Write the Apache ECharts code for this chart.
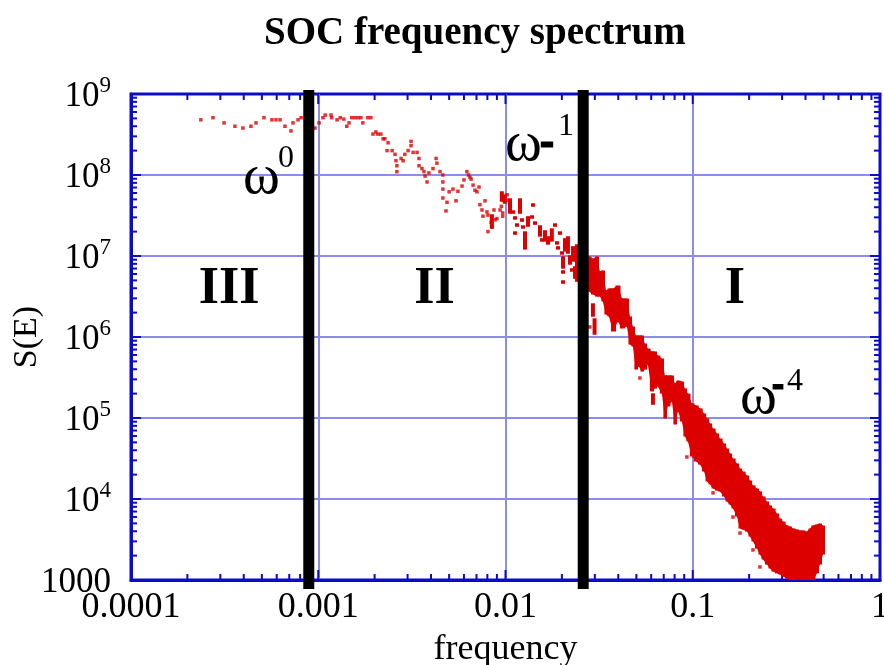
<!DOCTYPE html>
<html>
<head>
<meta charset="utf-8">
<script src="https://cdn.jsdelivr.net/npm/echarts@6/dist/echarts.min.js"></script>
<style>html,body{margin:0;padding:0;background:#fff}#chart{width:884px;height:665px}</style>
</head>
<body>
<div id="chart"></div>
<script>
// ---------------- data ----------------
const xTickLabels = ['0.0001', '0.001', '0.01', '0.1', '1'];
const yTickLabels = [['1000', ''], ['10', '4'], ['10', '5'], ['10', '6'], ['10', '7'], ['10', '8'], ['10', '9']];

// isolated spectrum points [frequency, S(E)]
const sparsePoints = [
  [2.36e-4, 4.8e8], [2.74e-4, 5.1e8], [3.14e-4, 4.4e8], [3.59e-4, 4.0e8], [3.96e-4, 3.8e8],
  [4.37e-4, 4.0e8], [4.65e-4, 4.4e8], [5.13e-4, 5.1e8], [5.66e-4, 4.8e8], [5.95e-4, 4.8e8],
  [6.25e-4, 4.8e8], [6.64e-4, 4.0e8], [7.15e-4, 3.5e8], [7.33e-4, 4.4e8], [7.8e-4, 4.8e8],
  [8.1e-4, 5.1e8], [9.6e-4, 3.8e8], [1.01e-3, 4.4e8], [1.06e-3, 5.1e8], [1.09e-3, 5.5e8],
  [1.17e-3, 5.5e8], [1.18e-3, 5.1e8], [1.26e-3, 4.8e8], [1.31e-3, 5.1e8], [1.37e-3, 4.9e8],
  [1.42e-3, 4.0e8], [1.46e-3, 4.4e8], [1.51e-3, 5.1e8], [1.57e-3, 5.1e8], [1.63e-3, 5.1e8],
  [1.69e-3, 5.1e8], [1.73e-3, 4.4e8], [1.84e-3, 5.1e8], [1.91e-3, 5.1e8], [1.96e-3, 3.2e8],
  [2.03e-3, 3.4e8], [2.08e-3, 3.2e8], [2.16e-3, 3.2e8], [2.22e-3, 2.8e8], [2.27e-3, 2.8e8],
  [2.36e-3, 2.5e8], [2.33e-3, 2.0e8], [2.48e-3, 2.0e8], [2.57e-3, 1.8e8], [2.60e-3, 1.5e8],
  [2.63e-3, 1.3e8], [2.63e-3, 1.1e8], [2.77e-3, 1.6e8], [2.84e-3, 1.5e8], [2.90e-3, 1.8e8],
  [3.02e-3, 2.0e8], [3.13e-3, 2.3e8], [3.13e-3, 2.6e8], [3.21e-3, 1.9e8], [3.37e-3, 1.9e8],
  [3.45e-3, 1.6e8], [3.45e-3, 1.3e8], [3.58e-3, 1.2e8], [3.67e-3, 1.1e8], [3.72e-3, 9.7e7],
  [3.81e-3, 8.2e7], [3.90e-3, 1.06e8], [4.10e-3, 1.2e8], [4.26e-3, 1.6e8], [4.30e-3, 1.4e8],
  [4.47e-3, 1.1e8], [4.63e-3, 1.0e8], [4.63e-3, 8.2e7], [4.63e-3, 6.7e7], [4.63e-3, 5.2e7],
  [4.81e-3, 3.6e7], [4.87e-3, 4.6e7], [5.0e-3, 6.2e7], [5.24e-3, 6.7e7], [5.44e-3, 4.8e7],
  [5.57e-3, 6.3e7], [5.86e-3, 7.3e7], [6.0e-3, 8.7e7], [6.22e-3, 1.1e8], [6.35e-3, 1.0e8],
  [6.46e-3, 9.4e7], [6.55e-3, 8.9e7], [6.71e-3, 7.5e7], [6.87e-3, 6.5e7], [7.04e-3, 6.2e7],
  [7.22e-3, 7.1e7], [7.3e-3, 4.3e7], [7.49e-3, 3.7e7], [7.58e-3, 3.1e7], [7.77e-3, 4.8e7],
  [7.96e-3, 3.5e7], [8.06e-3, 3.2e7], [8.37e-3, 2.6e7], [8.47e-3, 2.3e7], [8.06e-3, 2.0e7],
  [8.68e-3, 3.7e7], [9.0e-3, 2.9e7], [9.35e-3, 3.7e7], [9.5e-3, 4.1e7], [9.66e-3, 3.1e7],
  [9.66e-3, 3.4e7], [9.78e-3, 4.9e7], [8.8e-3, 2.8e7], [1.02e-2, 5.7e7], [1.02e-2, 4.9e7],
  [2.82e-2, 1.33e6], [5.22e-2, 3.12e5], [9.3e-2, 3.3e4], [0.1283, 1.19e4], [0.164, 5.99e3],
  [0.1788, 3.8e3], [0.2097, 2.35e3], [0.2285, 1.45e3]
];

// short vertical runs of points [frequency, S low, S high]
const clusterRuns = [
  [9.56e-3, 4.91e7, 5.99e7], [9.91e-3, 4.64e7, 5.5e7], [8.46e-3, 2.28e7, 3.12e7],
  [1.057e-2, 3.49e7, 4.91e7], [1.097e-2, 3.49e7, 3.49e7], [1.124e-2, 2.95e7, 2.95e7],
  [1.152e-2, 2.41e7, 2.41e7], [1.124e-2, 1.92e7, 1.92e7], [1.195e-2, 3.49e7, 4.91e7],
  [1.225e-2, 2.78e7, 2.78e7], [1.24e-2, 2.28e7, 2.28e7], [1.271e-2, 1.26e7, 1.92e7],
  [1.319e-2, 2.41e7, 2.95e7], [1.385e-2, 3.03e7, 3.03e7], [1.402e-2, 4.26e7, 4.26e7],
  [1.437e-2, 2.55e7, 2.55e7], [1.528e-2, 1.82e7, 2.28e7], [1.566e-2, 1.58e7, 1.58e7],
  [1.625e-2, 1.58e7, 1.98e7], [1.686e-2, 1.45e7, 1.67e7], [1.768e-2, 1.58e7, 2.09e7],
  [1.838e-2, 2.41e7, 2.41e7], [1.884e-2, 1.45e7, 1.45e7], [1.955e-2, 1.92e7, 1.92e7],
  [1.907e-2, 1.26e7, 1.26e7], [2.004e-2, 1.09e7, 1.09e7], [2.078e-2, 1.19e7, 1.58e7],
  [2.155e-2, 1.12e7, 1.67e7], [2.029e-2, 7.32e6, 9.45e6], [2.029e-2, 6.35e6, 6.35e6],
  [2.029e-2, 4.77e6, 4.77e6], [2.21e-2, 8.2e6, 9.72e6], [2.265e-2, 6.72e6, 6.72e6],
  [2.293e-2, 8.93e6, 1.26e7], [2.35e-2, 5.5e6, 7.11e6], [2.409e-2, 5.05e6, 1.33e7],
  [2.93e-2, 1.87e6, 2.48e6], [2.99e-2, 1.12e6, 1.62e6], [6.13e-2, 1.53e5, 1.92e5]
];

// dense high-frequency band [frequency, S low, S high]
const bandColumns = [
  [2.79e-2, 3.8e6, 9.45e6], [2.93e-2, 3.5e6, 8.9e6], [3.08e-2, 3.3e6, 9.45e6], [3.19e-2, 3.3e6, 6.2e6],
  [3.31e-2, 2.86e6, 6.35e6], [3.44e-2, 1.98e6, 3.6e6], [3.57e-2, 1.87e6, 3.8e6], [3.75e-2, 1.22e6, 3.8e6],
  [3.98e-2, 1.62e6, 4.14e6], [4.19e-2, 1.33e6, 2.86e6], [4.45e-2, 1.41e6, 2.86e6], [4.62e-2, 8.43e5, 1.72e6],
  [4.79e-2, 7.97e5, 1.29e6], [4.97e-2, 4.14e5, 1.0e6], [5.16e-2, 4.51e5, 1.0e6], [5.35e-2, 3.91e5, 1.0e6],
  [5.55e-2, 4.14e5, 7.97e5], [5.76e-2, 4.77e5, 6.91e5], [6.05e-2, 2.22e5, 6.35e5], [6.28e-2, 2.41e5, 6.35e5],
  [6.51e-2, 2.55e5, 5.66e5], [6.84e-2, 2.09e5, 5.2e5], [7.10e-2, 1.03e5, 3.21e5], [7.36e-2, 1.45e5, 3.21e5],
  [7.74e-2, 1.67e5, 3.21e5], [8.03e-2, 8.68e4, 2.55e5], [8.33e-2, 1.26e5, 2.78e5], [8.75e-2, 9.45e4, 2.7e5],
  [9.08e-2, 6.17e4, 2.22e5], [9.42e-2, 5.35e4, 1.92e5], [9.89e-2, 3.49e4, 1.45e5], [0.1041, 3.03e4, 1.37e5],
  [0.1093, 2.78e4, 1.26e5], [0.1149, 2.28e4, 1.09e5], [0.1192, 1.72e4, 9.45e4], [0.1237, 1.58e4, 8.2e4],
  [0.1283, 1.41e4, 7.11e4], [0.1347, 1.33e4, 6.17e4], [0.1398, 1.29e4, 5.35e4], [0.1468, 1.12e4, 4.64e4],
  [0.1524, 9.72e3, 4.02e4], [0.1581, 8.93e3, 3.49e4], [0.164, 7.97e3, 3.03e4], [0.1723, 6.35e3, 2.63e4],
  [0.1788, 4.51e3, 2.28e4], [0.1855, 4.38e3, 2.09e4], [0.1948, 4.14e3, 1.87e4], [0.2021, 3.59e3, 1.62e4],
  [0.2097, 3.12e3, 1.41e4], [0.2202, 2.55e3, 1.29e4], [0.2285, 2.15e3, 1.19e4], [0.2371, 1.87e3, 1.03e4],
  [0.2491, 1.62e3, 8.93e3], [0.2584, 1.45e3, 7.97e3], [0.2681, 1.33e3, 7.32e3], [0.2817, 1.26e3, 6.35e3],
  [0.2923, 1.22e3, 5.5e3], [0.3032, 1.15e3, 5.05e3], [0.3184, 1.09e3, 4.51e3], [0.3304, 1.0e3, 4.38e3],
  [0.3428, 1.0e3, 4.14e3], [0.36, 1.0e3, 4.02e3], [0.3736, 1.0e3, 3.91e3], [0.3877, 1.0e3, 3.91e3],
  [0.4072, 1.0e3, 3.8e3], [0.4225, 1.0e3, 4.14e3], [0.4383, 1.0e3, 4.51e3], [0.4604, 1.26e3, 4.64e3],
  [0.4777, 1.62e3, 4.77e3], [0.4956, 2.15e3, 4.51e3]
];

// regime boundaries (frequency)
const boundaryFreq = [8.9e-4, 2.6e-2];

// annotations anchored in data coordinates
const regionLabels = [
  { label: 'III', freq: 3.34e-4, S: 3.8e6 },
  { label: 'II', freq: 4.18e-3, S: 3.8e6 },
  { label: 'I', freq: 0.168, S: 3.8e6 }
];
const slopeLabels = [
  { power: '0', freq: 3.96e-4, S: 9.2e7 },
  { power: '-1', freq: 9.94e-3, S: 2.34e8 },
  { power: '-4', freq: 0.1788, S: 1.77e5 }
];

// ---------------- styling ----------------
const FONT = '"Liberation Serif", "Times New Roman", serif';
const AXIS_COLOR = '#0c0cc8';
const GRID_COLOR = '#8c8cec';
const RED = '#dc0000';
const X_MIN = 1e-4, X_MAX = 1, Y_MIN = 1e3, Y_MAX = 1e9;

// superscript layout for the omega annotations (pixel offsets from the omega anchor)
const SLOPE_PARTS = {
  '0': [{ t: '0', dx: 35, dy: -19, size: 32 }],
  '-1': [{ t: '-', dx: 36, dy: -1, size: 36, heavy: true }, { t: '1', dx: 53, dy: -18, size: 32 }],
  '-4': [{ t: '-', dx: 33, dy: -12, size: 30, heavy: true }, { t: '4', dx: 47, dy: -16, size: 32 }]
};

const chart = echarts.init(document.getElementById('chart'), null, { renderer: 'canvas' });

function renderTicks(params, api) {
  const cs = params.coordSys;
  const left = cs.x, right = cs.x + cs.width, top = cs.y, bottom = cs.y + cs.height;
  const st = { stroke: AXIS_COLOR, lineWidth: 2 };
  const ch = [];
  for (let k = -4; k < 0; k++) {
    for (let m = 1; m <= 9; m++) {
      if (k === -4 && m === 1) continue;
      const x = api.coord([m * Math.pow(10, k), Y_MIN])[0];
      const len = m === 1 ? 10 : 6;
      ch.push({ type: 'line', shape: { x1: x, y1: bottom, x2: x, y2: bottom - len }, style: st });
      ch.push({ type: 'line', shape: { x1: x, y1: top, x2: x, y2: top + len }, style: st });
    }
  }
  for (let k = 3; k < 9; k++) {
    for (let m = 1; m <= 9; m++) {
      if (k === 3 && m === 1) continue;
      const y = api.coord([X_MIN, m * Math.pow(10, k)])[1];
      const len = m === 1 ? 10 : 6;
      ch.push({ type: 'line', shape: { x1: left, y1: y, x2: left + len, y2: y }, style: st });
      ch.push({ type: 'line', shape: { x1: right, y1: y, x2: right - len, y2: y }, style: st });
    }
  }
  return { type: 'group', children: ch };
}

function renderBand(params, api) {
  const i = params.dataIndex;
  const cx = f => api.coord([f, Y_MIN])[0];
  const f = api.value(0);
  const x = cx(f);
  const xl = i > 0 ? (x + cx(bandColumns[i - 1][0])) / 2 : x - 1.5;
  const xr = i < bandColumns.length - 1 ? (x + cx(bandColumns[i + 1][0])) / 2 : x + 1.5;
  const yt = api.coord([f, api.value(2)])[1] - 1.5;
  const yb = api.coord([f, api.value(1)])[1] + 1.5;
  const col = { type: 'rect', shape: { x: xl, y: yt, width: xr - xl + 0.6, height: yb - yt }, style: { fill: RED } };
  if (i !== 0) return col;
  // solid core of the band: upper envelope then lower envelope
  const upper = bandColumns.map(c => { const p = api.coord([c[0], c[2]]); return [p[0], p[1] - 1.5]; });
  const lower = bandColumns.map(c => { const p = api.coord([c[0], c[1]]); return [p[0], p[1] + 1.5]; }).reverse();
  return { type: 'group', children: [
    { type: 'polygon', shape: { points: upper.concat(lower) }, style: { fill: RED } },
    col
  ] };
}

function renderRun(params, api) {
  const f = api.value(0);
  const pt = api.coord([f, api.value(2)]);
  const pb = api.coord([f, api.value(1)]);
  return { type: 'rect', shape: { x: pt[0] - 2, y: pt[1] - 1.75, width: 4, height: pb[1] - pt[1] + 3.5 }, style: { fill: RED } };
}

function renderBoundary(params, api) {
  const cs = params.coordSys;
  const x = api.coord([api.value(0), Y_MIN])[0];
  return { type: 'rect', shape: { x: x - 5.5, y: cs.y - 4, width: 11, height: cs.height + 13 }, style: { fill: '#000' } };
}

function txt(text, x, y, font, align, extra) {
  return { type: 'text', x: x, y: y,
    style: Object.assign({ legacy: false, text: text, font: font, fill: '#000', align: align, verticalAlign: 'middle' }, extra || {}) };
}

function renderRegion(params, api) {
  const p = api.coord([api.value(0), api.value(1)]);
  return txt(regionLabels[params.dataIndex].label, p[0], p[1], 'bold 52px ' + FONT, 'center');
}

function renderSlope(params, api) {
  const p = api.coord([api.value(0), api.value(1)]);
  const parts = SLOPE_PARTS[slopeLabels[params.dataIndex].power];
  const ch = [txt('\u03c9', p[0], p[1], '56px ' + FONT, 'left')];
  parts.forEach(pt => {
    const extra = pt.heavy ? { stroke: '#000', lineWidth: 3 } : {};
    ch.push(txt(pt.t, p[0] + pt.dx, p[1] + pt.dy, (pt.heavy ? 'bold ' : '') + pt.size + 'px ' + FONT, 'left', extra));
  });
  return { type: 'group', children: ch };
}

const option = {
  backgroundColor: '#ffffff',
  animation: false,
  graphic: [{
    type: 'text', left: 264, top: 14,
    style: { text: 'SOC frequency spectrum', font: 'bold 39px ' + FONT, fill: '#000' }
  }],
  grid: {
    left: 131, top: 94, width: 749, height: 486, containLabel: false, outerBoundsMode: 'none',
    show: true, borderColor: AXIS_COLOR, borderWidth: 3, backgroundColor: 'transparent'
  },
  xAxis: {
    type: 'log', logBase: 10, min: X_MIN, max: X_MAX,
    axisLine: { show: true, lineStyle: { color: AXIS_COLOR, width: 3 } },
    axisTick: { show: false },
    axisLabel: {
      formatter: v => xTickLabels[Math.round(Math.log10(v)) + 4],
      fontFamily: FONT, fontSize: 36, color: '#000', margin: 10,
      showMinLabel: true, showMaxLabel: true, hideOverlap: false
    },
    splitLine: { show: true, showMinLine: false, showMaxLine: false, lineStyle: { color: GRID_COLOR, width: 2 } },
    name: 'frequency', nameLocation: 'middle', nameGap: 52, nameMoveOverlap: false,
    nameTextStyle: { fontFamily: FONT, fontSize: 36, color: '#000' }
  },
  yAxis: {
    type: 'log', logBase: 10, min: Y_MIN, max: Y_MAX,
    axisLine: { show: true, lineStyle: { color: AXIS_COLOR, width: 3 } },
    axisTick: { show: false },
    axisLabel: {
      formatter: v => {
        const lab = yTickLabels[Math.round(Math.log10(v)) - 3];
        return lab[1] ? '{m|' + lab[0] + '}{s|' + lab[1] + '}' : '{m|' + lab[0] + '}';
      },
      margin: 20, color: '#000',
      showMinLabel: true, showMaxLabel: true, hideOverlap: false,
      rich: {
        m: { fontFamily: FONT, fontSize: 35, lineHeight: 40, padding: [6, 0, 0, 0], color: '#000' },
        s: { fontFamily: FONT, fontSize: 23, lineHeight: 24, verticalAlign: 'top', color: '#000' }
      }
    },
    splitLine: { show: true, showMinLine: false, showMaxLine: false, lineStyle: { color: GRID_COLOR, width: 2 } },
    name: 'S(E)', nameLocation: 'middle', nameGap: 87, nameRotate: 90, nameMoveOverlap: false,
    nameTextStyle: { fontFamily: FONT, fontSize: 34, color: '#000' }
  },
  series: [
    { type: 'custom', name: 'ticks', renderItem: renderTicks, data: [[X_MIN, Y_MIN]], z: 3, silent: true, clip: false },
    { type: 'scatter', name: 'points', data: sparsePoints, symbol: 'rect', symbolSize: 3.5, itemStyle: { color: RED }, z: 4, silent: true },
    { type: 'custom', name: 'runs', renderItem: renderRun, data: clusterRuns, encode: { x: 0, y: [1, 2] }, z: 4, clip: true, silent: true },
    { type: 'custom', name: 'band', renderItem: renderBand, data: bandColumns, encode: { x: 0, y: [1, 2] }, z: 4, clip: true, silent: true },
    { type: 'custom', name: 'boundaries', renderItem: renderBoundary, data: boundaryFreq.map(f => [f, Y_MIN]), z: 6, clip: false, silent: true },
    { type: 'custom', name: 'regions', renderItem: renderRegion, data: regionLabels.map(r => [r.freq, r.S]), z: 7, clip: false, silent: true },
    { type: 'custom', name: 'slopes', renderItem: renderSlope, data: slopeLabels.map(r => [r.freq, r.S]), z: 7, clip: false, silent: true }
  ]
};
chart.setOption(option);
</script>
</body>
</html>
